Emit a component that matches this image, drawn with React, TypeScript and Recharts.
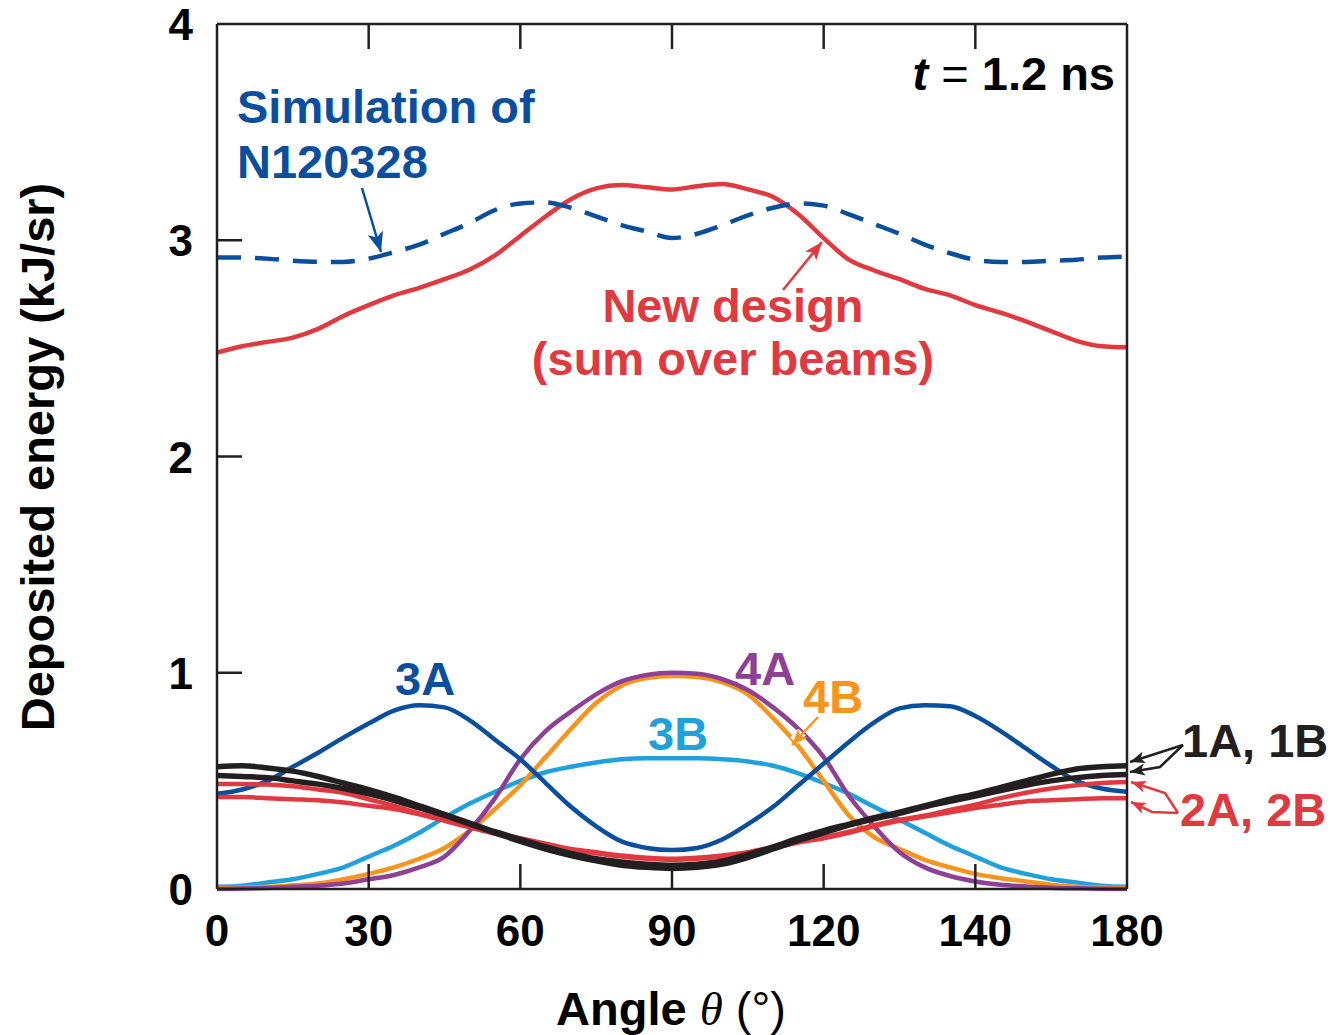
import { LineChart, Line, XAxis, YAxis } from "recharts"

// angle theta (deg)
const angle = [0, 5, 10, 15, 20, 25, 30, 35, 40, 45, 50, 55, 60, 65, 70, 75, 80, 85, 90, 95, 100, 105, 110, 115, 120, 125, 130, 135, 140, 145, 150, 155, 160, 165, 170, 175, 180]

// deposited energy (kJ/sr)
const simN120328 = [2.92, 2.92, 2.915, 2.905, 2.9, 2.9, 2.915, 2.945, 2.98, 3.03, 3.08, 3.14, 3.17, 3.175, 3.15, 3.11, 3.07, 3.04, 3.01, 3.03, 3.07, 3.115, 3.15, 3.17, 3.16, 3.12, 3.075, 3.03, 2.98, 2.94, 2.91, 2.9, 2.9, 2.905, 2.91, 2.92, 2.925]
const newDesign = [2.48, 2.51, 2.53, 2.55, 2.59, 2.65, 2.7, 2.745, 2.78, 2.82, 2.865, 2.93, 3.02, 3.11, 3.19, 3.24, 3.255, 3.245, 3.235, 3.25, 3.26, 3.235, 3.2, 3.12, 3.01, 2.91, 2.86, 2.82, 2.775, 2.745, 2.7, 2.665, 2.625, 2.58, 2.535, 2.51, 2.505]
const beam1A = [0.565, 0.57, 0.56, 0.545, 0.52, 0.49, 0.46, 0.425, 0.385, 0.345, 0.305, 0.265, 0.23, 0.195, 0.165, 0.14, 0.125, 0.115, 0.11, 0.115, 0.13, 0.16, 0.195, 0.235, 0.27, 0.3, 0.33, 0.355, 0.385, 0.415, 0.44, 0.47, 0.5, 0.53, 0.555, 0.565, 0.57]
const beam1B = [0.525, 0.52, 0.515, 0.5, 0.485, 0.465, 0.44, 0.41, 0.375, 0.34, 0.3, 0.26, 0.22, 0.185, 0.155, 0.13, 0.11, 0.1, 0.095, 0.1, 0.115, 0.145, 0.185, 0.225, 0.26, 0.295, 0.325, 0.35, 0.38, 0.405, 0.43, 0.455, 0.48, 0.5, 0.515, 0.525, 0.53]
const beam2A = [0.485, 0.485, 0.483, 0.475, 0.46, 0.445, 0.415, 0.385, 0.35, 0.32, 0.29, 0.26, 0.235, 0.21, 0.185, 0.17, 0.155, 0.145, 0.14, 0.145, 0.155, 0.17, 0.195, 0.22, 0.24, 0.265, 0.295, 0.32, 0.34, 0.365, 0.39, 0.42, 0.445, 0.465, 0.48, 0.49, 0.495]
const beam2B = [0.425, 0.425, 0.42, 0.415, 0.41, 0.4, 0.385, 0.37, 0.345, 0.315, 0.285, 0.255, 0.23, 0.205, 0.18, 0.165, 0.15, 0.14, 0.135, 0.14, 0.15, 0.165, 0.19, 0.215, 0.235, 0.26, 0.29, 0.315, 0.335, 0.355, 0.375, 0.39, 0.405, 0.41, 0.415, 0.42, 0.42]
const beam3A = [0.44, 0.46, 0.5, 0.565, 0.63, 0.7, 0.765, 0.825, 0.85, 0.84, 0.78, 0.69, 0.6, 0.49, 0.38, 0.29, 0.22, 0.19, 0.18, 0.19, 0.23, 0.3, 0.38, 0.48, 0.58, 0.68, 0.77, 0.835, 0.85, 0.845, 0.8, 0.73, 0.65, 0.57, 0.5, 0.465, 0.45]
const beam3B = [0.01, 0.015, 0.03, 0.045, 0.07, 0.1, 0.15, 0.2, 0.26, 0.33, 0.395, 0.45, 0.5, 0.54, 0.565, 0.585, 0.6, 0.605, 0.605, 0.605, 0.6, 0.59, 0.57, 0.535, 0.49, 0.44, 0.38, 0.32, 0.26, 0.2, 0.15, 0.1, 0.07, 0.045, 0.03, 0.015, 0.01]
const beam4A = [0, 0.002, 0.005, 0.01, 0.015, 0.025, 0.045, 0.065, 0.1, 0.15, 0.27, 0.42, 0.6, 0.73, 0.82, 0.9, 0.96, 0.99, 1.0, 0.995, 0.97, 0.92, 0.84, 0.74, 0.61, 0.43, 0.29, 0.17, 0.1, 0.06, 0.035, 0.02, 0.012, 0.006, 0.003, 0.001, 0]
const beam4B = [0.005, 0.007, 0.01, 0.017, 0.025, 0.045, 0.07, 0.1, 0.14, 0.19, 0.27, 0.37, 0.48, 0.61, 0.74, 0.86, 0.94, 0.975, 0.985, 0.98, 0.955, 0.9, 0.79, 0.66, 0.5, 0.34, 0.24, 0.185, 0.135, 0.1, 0.07, 0.05, 0.035, 0.02, 0.01, 0.007, 0.005]

const xTicks = [0, 30, 60, 90, 120, 150, 180]
const xTickLabels = ["0", "30", "60", "90", "120", "140", "180"]
const yTicks = [0, 1, 2, 3, 4]

const data = angle.map((a, i) => ({
  angle: a,
  sim: simN120328[i],
  sum: newDesign[i],
  b1A: beam1A[i],
  b1B: beam1B[i],
  b2A: beam2A[i],
  b2B: beam2B[i],
  b3A: beam3A[i],
  b3B: beam3B[i],
  b4A: beam4A[i],
  b4B: beam4B[i],
}))

const INK = "#231f20"
const DARK_BLUE = "#0a4f9f"
const RED = "#e03a40"
const LIGHT_BLUE = "#1ea1dc"
const PURPLE = "#8e3f96"
const ORANGE = "#f7941e"
const FONT = "'Liberation Sans', Arial, Helvetica, sans-serif"
const TICK_LEN = 25

const BottomTick = (props: any) => {
  const { x, y, payload } = props
  const i = xTicks.indexOf(payload.value)
  const inner = payload.value !== 0 && payload.value !== 180
  return (
    <g>
      {inner && <line x1={x} y1={y} x2={x} y2={y - TICK_LEN} stroke={INK} strokeWidth={2.5} />}
      <text x={x} y={y + 57} textAnchor="middle" fontFamily={FONT} fontWeight="bold" fontSize={44} fill="#000">
        {xTickLabels[i]}
      </text>
    </g>
  )
}

const TopTick = (props: any) => {
  const { x, y } = props
  return <line x1={x} y1={y} x2={x} y2={y + TICK_LEN} stroke={INK} strokeWidth={2.5} />
}

const LeftTick = (props: any) => {
  const { x, y, payload } = props
  const inner = payload.value !== 0 && payload.value !== 4
  return (
    <g>
      {inner && <line x1={x} y1={y} x2={x + TICK_LEN} y2={y} stroke={INK} strokeWidth={2.5} />}
      <text x={x - 24} y={y + 16} textAnchor="end" fontFamily={FONT} fontWeight="bold" fontSize={44} fill="#000">
        {payload.value}
      </text>
    </g>
  )
}

const RightTick = (props: any) => {
  const { x, y } = props
  return <line x1={x} y1={y} x2={x - TICK_LEN} y2={y} stroke={INK} strokeWidth={2.5} />
}

function Arrowheads() {
  const heads: [string, string, number][] = [
    ["hBlue", DARK_BLUE, 20],
    ["hRed", RED, 18],
    ["hOrange", ORANGE, 16],
    ["hBlack", INK, 15],
    ["hRedSmall", RED, 15],
  ]
  return (
    <defs>
      {heads.map(([id, c, s]) => (
        <marker key={id} id={id} markerUnits="userSpaceOnUse" markerWidth={s} markerHeight={s * 0.8} refX={s} refY={s * 0.4} orient="auto">
          <path d={`M0,0 L${s},${s * 0.4} L0,${s * 0.8} L${s * 0.25},${s * 0.4} z`} fill={c} />
        </marker>
      ))}
    </defs>
  )
}

function Annotations() {
  const t = { fontFamily: FONT, fontWeight: "bold" as const, fontSize: 47 }
  return (
    <svg width={1331} height={1035} style={{ position: "absolute", left: 0, top: 0, pointerEvents: "none" }}>
      <Arrowheads />

      <text x={237} y={123} fill={DARK_BLUE} {...t}>Simulation of</text>
      <text x={237} y={178} fill={DARK_BLUE} {...t}>N120328</text>
      <line x1={362} y1={188} x2={381} y2={252} stroke={DARK_BLUE} strokeWidth={2.5} markerEnd="url(#hBlue)" />

      <text x={1115} y={90} textAnchor="end" fill="#000" {...t}>
        <tspan fontStyle="italic">t</tspan>
        <tspan fontWeight="normal"> = </tspan>
        <tspan>1.2 ns</tspan>
      </text>

      <text x={733} y={322} textAnchor="middle" fill={RED} {...t}>New design</text>
      <text x={733} y={375} textAnchor="middle" fill={RED} {...t}>(sum over beams)</text>
      <line x1={783} y1={290} x2={822} y2={242} stroke={RED} strokeWidth={2.5} markerEnd="url(#hRed)" />

      <text x={395} y={695} fill={DARK_BLUE} {...t}>3A</text>
      <text x={735} y={685} fill={PURPLE} {...t}>4A</text>
      <text x={803} y={713} fill={ORANGE} {...t}>4B</text>
      <line x1={802} y1={732} x2={794} y2={741} stroke="#fff" strokeWidth={10} />
      <line x1={818} y1={717} x2={792} y2={745} stroke={ORANGE} strokeWidth={2.5} markerEnd="url(#hOrange)" />
      <text x={648} y={750} fill={LIGHT_BLUE} {...t}>3B</text>

      <text x={1182} y={757} fill={INK} {...t}>1A, 1B</text>
      <polyline points="1183,745 1130,762" fill="none" stroke={INK} strokeWidth={2.5} markerEnd="url(#hBlack)" />
      <polyline points="1183,745 1160,767 1130,772" fill="none" stroke={INK} strokeWidth={2.5} markerEnd="url(#hBlack)" />

      <text x={1180} y={826} fill={RED} {...t}>2A, 2B</text>
      <polyline points="1178,813 1165,793 1131,782" fill="none" stroke={RED} strokeWidth={2.5} markerEnd="url(#hRedSmall)" />
      <polyline points="1178,813 1152,812 1131,802" fill="none" stroke={RED} strokeWidth={2.5} markerEnd="url(#hRedSmall)" />

      <text transform="translate(54,457) rotate(-90)" textAnchor="middle" fill="#000" {...t}>
        Deposited energy (kJ/sr)
      </text>

      <text x={671} y={1025} textAnchor="middle" fill="#000" {...t} fontSize={47}>
        <tspan>Angle </tspan>
        <tspan fontFamily="'Liberation Serif', 'Times New Roman', serif" fontStyle="italic" fontWeight="normal">θ</tspan>
        <tspan fontWeight="normal"> (°)</tspan>
      </text>
    </svg>
  )
}

export default function App() {
  return (
    <div style={{ position: "absolute", left: 0, top: 0, width: 1331, height: 1035, background: "#fff" }}>
      <LineChart width={1331} height={1035} data={data} margin={{ top: 14, right: 194, bottom: 86, left: 157 }}>
        <XAxis
          dataKey="angle"
          type="number"
          domain={[0, 180]}
          ticks={xTicks}
          height={60}
          tickSize={0}
          tickMargin={0}
          tickLine={false}
          axisLine={{ stroke: INK, strokeWidth: 2.5 }}
          tick={<BottomTick />}
          interval={0}
        />
        <XAxis
          xAxisId="top"
          orientation="top"
          dataKey="angle"
          type="number"
          domain={[0, 180]}
          ticks={[30, 60, 90, 120, 150]}
          height={10}
          tickSize={0}
          tickMargin={0}
          tickLine={false}
          axisLine={{ stroke: INK, strokeWidth: 2.5 }}
          tick={<TopTick />}
          interval={0}
        />
        <YAxis
          type="number"
          domain={[0, 4]}
          ticks={yTicks}
          width={60}
          tickSize={0}
          tickMargin={0}
          tickLine={false}
          axisLine={{ stroke: INK, strokeWidth: 2.5 }}
          tick={<LeftTick />}
          interval={0}
        />
        <YAxis
          yAxisId="right"
          orientation="right"
          type="number"
          domain={[0, 4]}
          ticks={[1, 2, 3]}
          width={10}
          tickSize={0}
          tickMargin={0}
          tickLine={false}
          axisLine={{ stroke: INK, strokeWidth: 2.5 }}
          tick={<RightTick />}
          interval={0}
        />

        <Line type="monotone" dataKey="b3B" stroke={LIGHT_BLUE} strokeWidth={4.5} dot={false} isAnimationActive={false} />
        <Line type="monotone" dataKey="b4B" stroke={ORANGE} strokeWidth={4.5} dot={false} isAnimationActive={false} />
        <Line type="monotone" dataKey="b4A" stroke={PURPLE} strokeWidth={4.5} dot={false} isAnimationActive={false} />
        <Line type="monotone" dataKey="b3A" stroke={DARK_BLUE} strokeWidth={4.5} dot={false} isAnimationActive={false} />
        <Line type="monotone" dataKey="b2A" stroke={RED} strokeWidth={4.5} dot={false} isAnimationActive={false} />
        <Line type="monotone" dataKey="b2B" stroke={RED} strokeWidth={4.5} dot={false} isAnimationActive={false} />
        <Line type="monotone" dataKey="b1A" stroke={INK} strokeWidth={5.5} dot={false} isAnimationActive={false} />
        <Line type="monotone" dataKey="b1B" stroke={INK} strokeWidth={5.5} dot={false} isAnimationActive={false} />
        <Line type="monotone" dataKey="sum" stroke={RED} strokeWidth={4.5} dot={false} isAnimationActive={false} />
        <Line type="monotone" dataKey="sim" stroke={DARK_BLUE} strokeWidth={4.5} strokeDasharray="24 14" dot={false} isAnimationActive={false} />
      </LineChart>
      <Annotations />
    </div>
  )
}
